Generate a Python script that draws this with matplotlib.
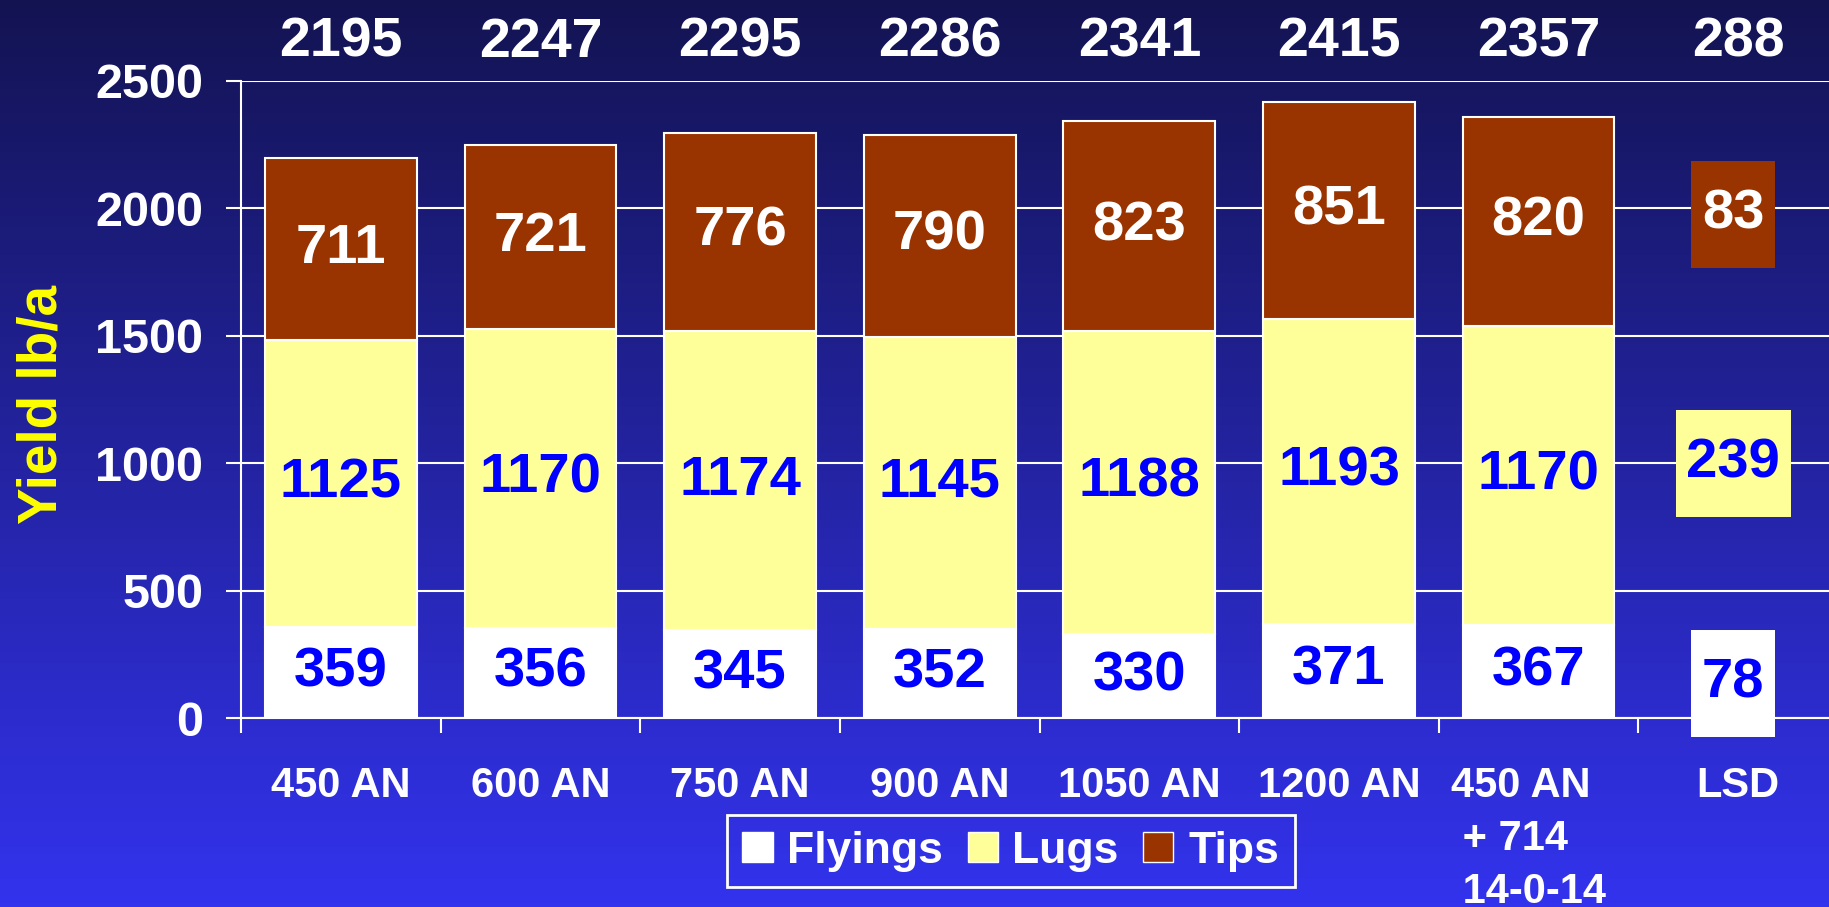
import numpy as np
import matplotlib
matplotlib.use('Agg')
import matplotlib.pyplot as plt
from matplotlib.path import Path
from matplotlib.patches import Patch
import matplotlib.transforms as mtrans

# ---------------- data ----------------
categories = ['450 AN', '600 AN', '750 AN', '900 AN', '1050 AN', '1200 AN',
              '450 AN\n + 714\n 14-0-14', 'LSD']
series_names = ['Flyings', 'Lugs', 'Tips']
flyings = [359, 356, 345, 352, 330, 371, 367]
lugs = [1125, 1170, 1174, 1145, 1188, 1193, 1170]
tips = [711, 721, 776, 790, 823, 851, 820]
totals = [2195, 2247, 2295, 2286, 2341, 2415, 2357, 288]
lsd_values = [78, 239, 83]          # Flyings, Lugs, Tips
lsd_label_y = [135, 1000, 1975]     # where the LSD boxes sit
yticks = [0, 500, 1000, 1500, 2000, 2500]

colors = ['#FFFFFF', '#FFFF99', '#993300']
label_colors = ['#0000FF', '#0000FF', '#FFFFFF']

plt.rcParams['font.family'] = ['Liberation Sans', 'DejaVu Sans']
plt.rcParams['font.weight'] = 'bold'

W, H = 1829, 907
fig = plt.figure(figsize=(W / 100, H / 100), dpi=100)

# background gradient
bg = fig.add_axes([0, 0, 1, 1], zorder=-10)
c_top = np.array([19, 19, 82]) / 255
c_bot = np.array([51, 51, 238]) / 255
t = np.linspace(0, 1, 256)[:, None, None]
grad = c_top[None, None, :] * (1 - t) + c_bot[None, None, :] * t
bg.imshow(grad, aspect='auto', extent=[0, 1, 0, 1], origin='upper')
bg.axis('off')

ax = fig.add_axes([241 / W, 1 - 718.3 / H, (1838 - 241) / W, (718.3 - 80.7) / H])
ax.patch.set_alpha(0)
ax.set_xlim(-0.5, 7.5)
ax.set_ylim(0, 2500)

x = np.arange(len(flyings))
bottoms = np.zeros(len(flyings))
for vals, c, lc in zip([flyings, lugs, tips], colors, label_colors):
    bars = ax.bar(x, vals, 0.76, bottom=bottoms, color=c, edgecolor='white',
                  linewidth=1.5, zorder=3)
    ax.bar_label(bars, labels=[str(v) for v in vals], label_type='center',
                 color=lc, fontsize=40.5, fontweight='bold', zorder=4)
    bottoms += np.array(vals)

for i, tot in enumerate(totals):
    ax.text(i, 2593, str(tot), ha='center', va='baseline', color='white',
            fontsize=40, fontweight='bold')


def lsd_box(x0, y0, width, height, mutation_size):
    padx = 0.19 * mutation_size
    half = 0.95 * mutation_size
    yc = y0 + height / 2
    xa = x0 - padx
    xb = x0 + width + padx
    return Path([(xa, yc - half), (xb, yc - half), (xb, yc + half),
                 (xa, yc + half), (xa, yc - half)], closed=True)


lsd_x = len(categories) - 1 - 0.025
for v, yv, c, lc in zip(lsd_values, lsd_label_y, colors, label_colors):
    ax.text(lsd_x, yv, str(v), ha='center', va='center', color=lc, fontsize=40.5,
            fontweight='bold', zorder=5,
            bbox=dict(boxstyle=lsd_box, facecolor=c, edgecolor='none'))

# axes styling
ax.set_yticks(yticks)
ax.grid(axis='y', color='white', linewidth=1.5)
ax.set_axisbelow(True)
ax.tick_params(axis='y', colors='white', length=10.8, width=1.5, pad=16.5,
               labelsize=35)
ax.set_xticks(np.arange(-0.5, len(categories), 1.0))
ax.set_xticklabels([])
ax.set_xticks(np.arange(len(categories)), minor=True)
ax.set_xticklabels(categories, minor=True)
ax.tick_params(axis='x', which='major', length=10.8, width=1.5, color='white')
ax.tick_params(axis='x', which='minor', length=0, pad=34, labelsize=30,
               labelcolor='white')
for lab in ax.get_xticklabels(minor=True):
    lab.set_linespacing(1.43)
    lab.set_fontweight('bold')
special = ax.get_xticklabels(minor=True)[6]
special.set_multialignment('left')
special.set_transform(special.get_transform() +
                      mtrans.ScaledTranslation(-10 / 100, 0, fig.dpi_scale_trans))
for lab in ax.get_yticklabels():
    lab.set_fontweight('bold')

for s in ['top', 'right']:
    ax.spines[s].set_visible(False)
for s in ['left', 'bottom']:
    ax.spines[s].set_color('white')
    ax.spines[s].set_linewidth(1.5)

fig.text(43 / W, 1 - 404 / H, 'Yield lb/a', rotation=90, ha='center', va='center',
         color='#FFFF00', fontsize=39.5, fontweight='bold')

handles = [Patch(facecolor=c, edgecolor='white', linewidth=1) for c in colors]
leg = fig.legend(handles, series_names, loc='center',
                 bbox_to_anchor=(1010.7 / W, 1 - 851 / H), ncol=3, fontsize=32,
                 handlelength=0.68, handleheight=0.68, handletextpad=0.33,
                 columnspacing=0.55, borderpad=0.35, frameon=True, fancybox=False,
                 facecolor='none', edgecolor='white', framealpha=1,
                 labelcolor='white')
leg.get_frame().set_linewidth(2)

fig.savefig('out.png', dpi=100)
